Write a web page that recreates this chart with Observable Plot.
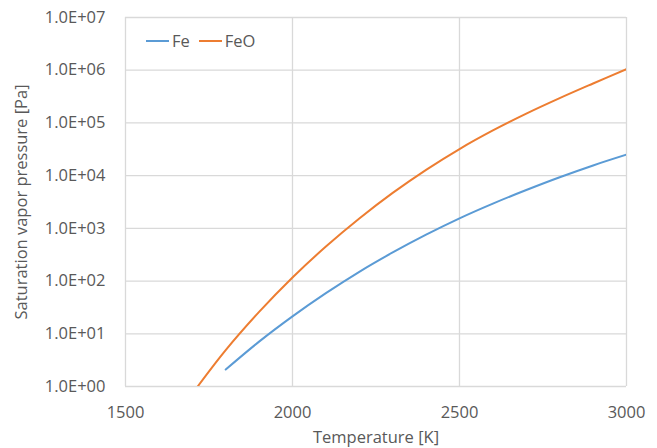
<!DOCTYPE html>
<html><head><meta charset="utf-8">
<script src="https://cdn.jsdelivr.net/npm/d3@7"></script>
<script src="https://cdn.jsdelivr.net/npm/@observablehq/plot@0.6"></script>
<style>
body{margin:0;background:#fff;}
#wrap{position:relative;width:657px;height:448px;font-family:"Open Sans",sans-serif;}
.legend{position:absolute;left:146px;top:30px;display:flex;align-items:center;font-size:16.5px;color:#595959;line-height:22px;}
.item{display:flex;align-items:center;margin-right:9px;}
.sw{display:inline-block;width:23px;height:2px;margin-right:3px;}
</style></head><body><div id="wrap"></div>
<script>
// Temperatures [K]
const feT  = [1800, 1900, 2000, 2100, 2200, 2300, 2400, 2500, 2600, 2700, 2800, 2900, 3000];
const feP  = [2.1, 7.1, 21.4, 59, 150, 349, 759, 1550, 2950, 5330, 9310, 15600, 25000];
const feoT = [1716, 1800, 1900, 2000, 2100, 2200, 2300, 2400, 2500, 2600, 2700, 2800, 2900, 3000];
const feoP = [1.0, 4.9, 26, 117, 452, 1540, 4700, 12900, 32000, 72000, 150000, 295000, 560000, 1050000];
const xTicks = [1500, 2000, 2500, 3000];
const yTicks = [1, 10, 100, 1e3, 1e4, 1e5, 1e6, 1e7];
const yTickLabels = ["1.0E+00","1.0E+01","1.0E+02","1.0E+03","1.0E+04","1.0E+05","1.0E+06","1.0E+07"];
const seriesNames = ["Fe", "FeO"];
const seriesColors = ["#5B9BD5", "#ED7D31"];

const fe = feT.map((T, i) => ({T, p: feP[i]}));
const feo = feoT.map((T, i) => ({T, p: feoP[i]}));

const grid = {stroke: "#d9d9d9", strokeOpacity: 1, strokeWidth: 1.3};
const chart = Plot.plot({
  width: 657, height: 448,
  marginLeft: 125, marginRight: 31, marginTop: 17, marginBottom: 62,
  style: {fontFamily: "Open Sans", fontSize: "16.5px", color: "#595959", background: "white"},
  x: {domain: [1500, 3000]},
  y: {type: "log", domain: [1, 1e7]},
  marks: [
    Plot.gridX(xTicks, grid),
    Plot.gridY(yTicks, grid),
    Plot.axisX(xTicks, {tickSize: 0, tickPadding: 20, tickFormat: d => String(d), label: "Temperature [K]", labelArrow: false, labelAnchor: "center", labelOffset: 56}),
    Plot.axisY(yTicks, {tickSize: 0, tickPadding: 20, tickFormat: d => yTickLabels[yTicks.indexOf(d)], label: "Saturation vapor pressure [Pa]", labelArrow: false, labelAnchor: "center", labelOffset: 110}),
    Plot.line(fe, {x: "T", y: "p", stroke: seriesColors[0], strokeWidth: 2, curve: "catmull-rom", clip: true}),
    Plot.line(feo, {x: "T", y: "p", stroke: seriesColors[1], strokeWidth: 2, curve: "catmull-rom", clip: true})
  ]
});
const wrap = document.getElementById("wrap");
wrap.appendChild(chart);
const leg = document.createElement("div");
leg.className = "legend";
seriesNames.forEach((n, i) => {
  const it = document.createElement("span");
  it.className = "item";
  const sw = document.createElement("span");
  sw.className = "sw";
  sw.style.background = seriesColors[i];
  it.appendChild(sw);
  it.appendChild(document.createTextNode(n));
  leg.appendChild(it);
});
wrap.appendChild(leg);
</script></body></html>
